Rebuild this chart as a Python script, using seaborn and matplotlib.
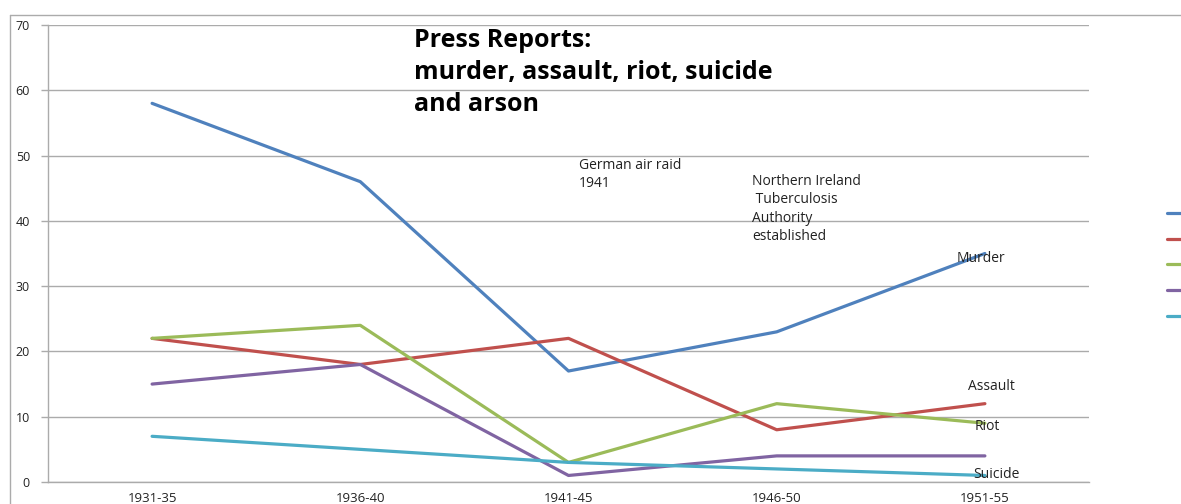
import matplotlib
matplotlib.use("Agg")
import matplotlib.pyplot as plt
import seaborn as sns
import pandas as pd
from matplotlib.lines import Line2D

periods = ["1931-35", "1936-40", "1941-45", "1946-50", "1951-55"]
murder = [58, 46, 17, 23, 35]
assault = [22, 18, 22, 8, 12]
riot = [22, 24, 3, 12, 9]
suicide = [15, 18, 1, 4, 4]
arson = [7, 5, 3, 2, 1]
series_names = ["Murder", "Assault", "Riot", "Suicide", "Arson"]
colors = ["#4F81BD", "#C0504D", "#9BBB59", "#8064A2", "#4BACC6"]
y_ticks = [0, 10, 20, 30, 40, 50, 60, 70]

rows = []
for name, vals in zip(series_names, [murder, assault, riot, suicide, arson]):
    for p, v in zip(periods, vals):
        rows.append({"Period": p, "Reports": v, "Series": name})
df = pd.DataFrame(rows)

sns.set_theme(style="white")
plt.rcParams['font.family'] = ['Open Sans', 'DejaVu Sans']

W, H = 1181, 504
fig = plt.figure(figsize=(W / 100, H / 100), dpi=100)
ax = fig.add_axes([48 / W, 1 - 482 / H, (1089 - 48) / W, (482 - 25) / H])

sns.lineplot(data=df, x="Period", y="Reports", hue="Series", palette=colors,
             hue_order=series_names, sort=False, linewidth=2.3, ax=ax, legend=False)

grid_c = "#ABABAB"
ax.set_xlim(-0.5, 4.5)
ax.set_ylim(0, 70)
ax.set_yticks(y_ticks)
ax.set_xlabel("")
ax.set_ylabel("")
ax.yaxis.grid(True, color=grid_c, linewidth=1.0)
ax.set_axisbelow(True)
for s in ["top", "right"]:
    ax.spines[s].set_visible(False)
for s in ["left", "bottom"]:
    ax.spines[s].set_color(grid_c)
    ax.spines[s].set_linewidth(1.0)
ax.set_xticks([i - 0.5 for i in range(6)], minor=True)
ax.tick_params(axis="x", which="major", length=0, labelsize=9.5, pad=7, labelcolor="#222222")
ax.tick_params(axis="x", which="minor", length=5, color=grid_c, width=1, direction="out")
ax.tick_params(axis="y", which="major", length=5, color=grid_c, width=1, labelsize=9, pad=8,
               labelcolor="#222222", left=True)

def fx(px):
    return px / W

def fy(py):
    return 1 - py / H

# outer chart frame
fig.add_artist(Line2D([fx(10), fx(10)], [fy(15), 0], color=grid_c, lw=1.0))
fig.add_artist(Line2D([fx(10), 1], [fy(15), fy(15)], color=grid_c, lw=1.0))

# title
fig.text(fx(414), fy(28), "Press Reports:\nmurder, assault, riot, suicide\nand arson",
         fontsize=18, fontweight="bold", va="top", ha="left", linespacing=1.37, color="black")

# annotations
ann_c = "#222222"
fig.text(fx(579), fy(158), "German air raid\n1941", fontsize=10, va="top", ha="left",
         linespacing=1.3, color=ann_c)
fig.text(fx(752), fy(174), "Northern Ireland\n Tuberculosis\nAuthority\nestablished", fontsize=10,
         va="top", ha="left", linespacing=1.3, color=ann_c)
fig.text(fx(957), fy(258), "Murder", fontsize=10, va="center", ha="left", color=ann_c)
fig.text(fx(968), fy(386), "Assault", fontsize=10, va="center", ha="left", color=ann_c)
fig.text(fx(975), fy(426), "Riot", fontsize=10, va="center", ha="left", color=ann_c)
fig.text(fx(973), fy(475), "Suicide", fontsize=10, va="center", ha="left", color=ann_c)

# legend (labels fall outside the canvas, as in the reference)
handles = [Line2D([0], [0], color=c, lw=2.3) for c in colors]
fig.legend(handles, series_names, loc="upper left", bbox_to_anchor=(fx(1167), fy(208)),
           frameon=False, handlelength=1.6, handletextpad=0.6, labelspacing=0.95,
           fontsize=9.5, borderaxespad=0, borderpad=0)

fig.savefig("out.png", dpi=100)
